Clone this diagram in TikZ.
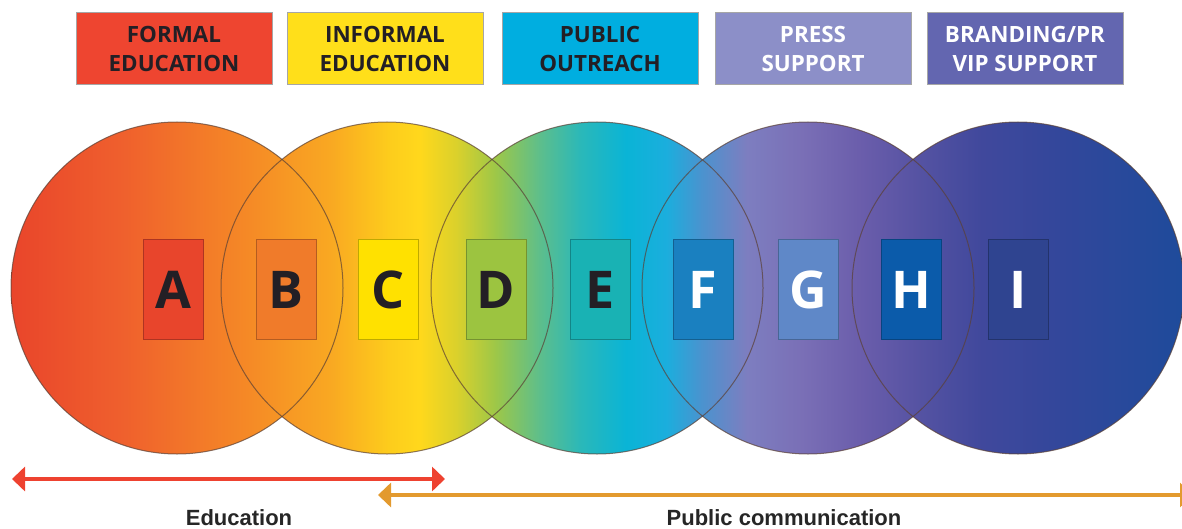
\documentclass[tikz,border=0pt]{standalone}
\usepackage{fontspec}
\setmainfont{Open Sans}
\newfontfamily\arialfont{Liberation Sans}
\usetikzlibrary{arrows.meta}

\definecolor{sA}{HTML}{E9452B}
\definecolor{sB}{HTML}{EF5F2D}
\definecolor{sC}{HTML}{F58A26}
\definecolor{sD}{HTML}{F9A822}
\definecolor{sE}{HTML}{FDCD1C}
\definecolor{sF}{HTML}{FFD81C}
\definecolor{sG}{HTML}{DCD12B}
\definecolor{sH}{HTML}{9DC748}
\definecolor{sI}{HTML}{5CBE8D}
\definecolor{sJ}{HTML}{2AB8B9}
\definecolor{sK}{HTML}{0AB4D6}
\definecolor{sL}{HTML}{1BAEDD}
\definecolor{sM}{HTML}{4A93CF}
\definecolor{sN}{HTML}{7D7EC0}
\definecolor{sO}{HTML}{7A6FB6}
\definecolor{sP}{HTML}{6A5DAB}
\definecolor{sQ}{HTML}{5452A2}
\definecolor{sR}{HTML}{40489C}
\definecolor{sS}{HTML}{32479B}
\definecolor{sT}{HTML}{1E4B9B}

\pgfdeclarehorizontalshading{spectrum}{100bp}{color(0bp)=(sA); color(25bp)=(sA); color(29.62bp)=(sB); color(35.17bp)=(sC); color(38.59bp)=(sD); color(41.15bp)=(sE); color(42.44bp)=(sF); color(43.93bp)=(sG); color(45.64bp)=(sH); color(47.56bp)=(sI); color(49.27bp)=(sJ); color(51.20bp)=(sK); color(52.91bp)=(sL); color(54.40bp)=(sM); color(56.32bp)=(sN); color(58.68bp)=(sO); color(61.24bp)=(sP); color(63.80bp)=(sQ); color(66.37bp)=(sR); color(69.79bp)=(sS); color(75bp)=(sT); color(100bp)=(sT)}

\definecolor{tFormal}{HTML}{EE4530}
\definecolor{tInformal}{HTML}{FFDF1A}
\definecolor{tPublic}{HTML}{00AEE0}
\definecolor{tPress}{HTML}{8C8FC8}
\definecolor{tBrand}{HTML}{6366B0}
\definecolor{darktext}{HTML}{231F25}
\definecolor{bA}{HTML}{E8452C}
\definecolor{bB}{HTML}{F07B2A}
\definecolor{bC}{HTML}{FFE100}
\definecolor{bD}{HTML}{9CC440}
\definecolor{bE}{HTML}{19B2B4}
\definecolor{bF}{HTML}{1A80C0}
\definecolor{bG}{HTML}{5F88C8}
\definecolor{bH}{HTML}{0B5BAA}
\definecolor{bI}{HTML}{2F4490}
\definecolor{eduRed}{HTML}{EE4230}
\definecolor{pubOrange}{HTML}{E39A2E}
\definecolor{ringline}{HTML}{5A4035}

\tikzset{
  topbox/.style={draw=black!35, line width=0.5pt, minimum width=98pt, minimum height=36pt,
    inner sep=0pt, align=center, font=\fontsize{11.2}{14.5}\selectfont\bfseries},
  letterbox/.style={draw=#1!75!black, fill=#1, line width=0.5pt, minimum width=30pt,
    minimum height=49.5pt, inner sep=0pt, font=\fontsize{26}{28}\selectfont\bfseries},
  ring/.style={draw=ringline, draw opacity=0.7, line width=0.5pt},
  spanarrow/.style={line width=2pt, {Triangle[width=12pt,length=6.5pt]}-{Triangle[width=12pt,length=6.5pt]}},
  spanlabel/.style={font=\arialfont\fontsize{11}{13}\selectfont\bfseries, text=black!85}
}

\begin{document}
\begin{tikzpicture}[x=0.5pt,y=-0.5pt]
\useasboundingbox (0,0) rectangle (1182,529);

% top category boxes
\node[topbox, fill=tFormal, text=darktext] (formal) at (174,49) {FORMAL\\EDUCATION};
\node[topbox, fill=tInformal, text=darktext] (informal) at (385,49) {INFORMAL\\EDUCATION};
\node[topbox, fill=tPublic, text=darktext] (public) at (600,49) {PUBLIC\\OUTREACH};
\node[topbox, fill=tPress, text=white] (press) at (813,49) {PRESS\\SUPPORT};
\node[topbox, fill=tBrand, text=white] (brand) at (1025,49) {BRANDING/PR\\VIP SUPPORT};

% spectrum circles
\begin{scope}
  \clip (177,288) circle[radius=166] (387,288) circle[radius=166]
        (597,288) circle[radius=166] (808,288) circle[radius=166]
        (1018,288) circle[radius=166];
  \shade[shading=spectrum] (11,121) rectangle (1185,455);
\end{scope}
\foreach \cx in {177,387,597,808,1018}
  \draw[ring] (\cx,288) circle[radius=166];

% letter boxes
\node[letterbox=bA, text=darktext] (A) at (173,289.5) {A};
\node[letterbox=bB, text=darktext] (B) at (286,289.5) {B};
\node[letterbox=bC, text=darktext] (C) at (388,289.5) {C};
\node[letterbox=bD, text=darktext] (D) at (496,289.5) {D};
\node[letterbox=bE, text=darktext] (E) at (600,289.5) {E};
\node[letterbox=bF, text=white] (F) at (703,289.5) {F};
\node[letterbox=bG, text=white] (G) at (808,289.5) {G};
\node[letterbox=bH, text=white] (H) at (911,289.5) {H};
\node[letterbox=bI, text=white] (I) at (1018,289.5) {I};

% span arrows
\coordinate (eduL) at (12,479);
\coordinate (eduR) at (445,479);
\coordinate (pubL) at (378,495);
\coordinate (pubR) at (1193,495);
\draw[spanarrow, draw=eduRed, fill=eduRed] (eduL) -- (eduR);
\draw[spanarrow, draw=pubOrange, fill=pubOrange] (pubL) -- (pubR);

\node[spanlabel] (edu) at (239,518) {Education};
\node[spanlabel] (pub) at (784,518) {Public communication};
\end{tikzpicture}
\end{document}
